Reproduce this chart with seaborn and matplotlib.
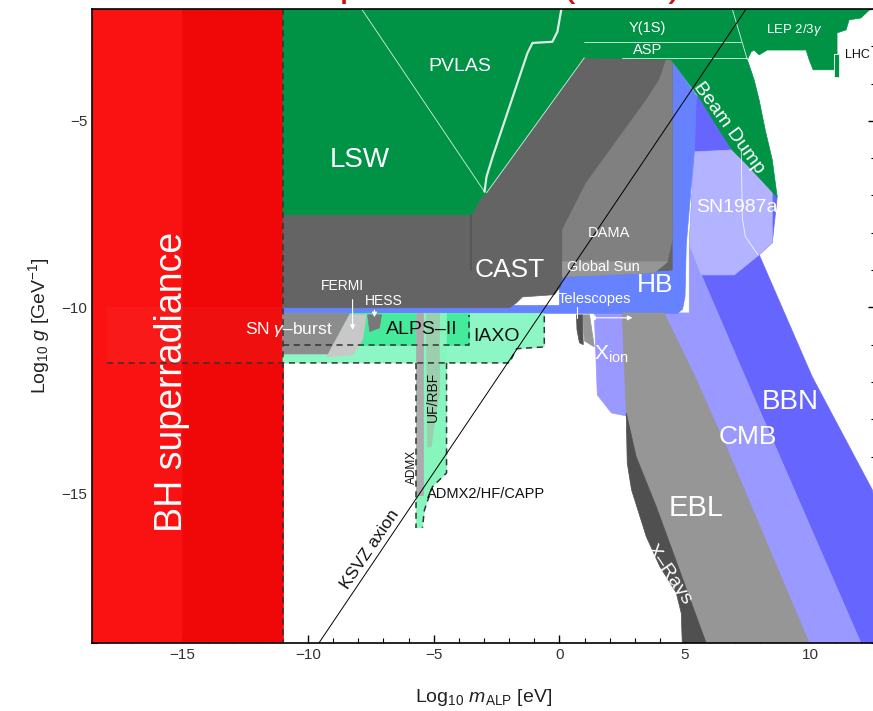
import matplotlib
matplotlib.use("Agg")
import matplotlib.pyplot as plt
from matplotlib.ticker import MultipleLocator
import seaborn as sns

sns.set_theme(style="ticks")
plt.rcParams["font.family"] = ["Liberation Sans", "DejaVu Sans"]
plt.rcParams["mathtext.fontset"] = "custom"
plt.rcParams["mathtext.rm"] = "Liberation Sans"
plt.rcParams["mathtext.it"] = "Liberation Sans:italic"
plt.rcParams["mathtext.bf"] = "Liberation Sans:bold"

# region outlines, (log10 m_ALP [eV], log10 g [GeV^-1])
bh_a = [(-18.6, -19.0), (-15.0, -19.0), (-15.0, -2.0), (-18.6, -2.0)]
bh_b = [(-15.0, -19.0), (-11.0, -19.0), (-11.0, -2.0), (-15.0, -2.0)]
bh_band = [(-18.0, -11.49), (-11.0, -11.49), (-11.0, -10.0), (-18.0, -10.0)]

green_top = [(-11.0, -2.0), (12.6, -2.0), (12.33, -2.03), (12.0, -2.24), (11.53, -2.29),
             (11.41, -2.56), (11.05, -2.64), (11.05, -3.2), (10.93, -3.63), (10.1, -3.63),
             (9.94, -3.36), (9.82, -3.10), (8.27, -3.10), (7.95, -3.23), (7.75, -3.10),
             (7.63, -3.15), (7.48, -3.36), (7.75, -3.90), (7.95, -4.44), (8.19, -5.24),
             (8.47, -6.04), (8.63, -6.85), (8.67, -7.04), (8.55, -6.96), (8.07, -6.61),
             (7.36, -6.10), (6.88, -5.78), (6.36, -5.24), (5.57, -4.38), (4.45, -3.36),
             (0.99, -3.31), (-2.90, -6.93), (-3.18, -7.12), (-3.42, -7.44), (-3.58, -7.52),
             (-11.0, -7.52)]
lhc = [(10.93, -3.2), (11.13, -3.2), (11.13, -3.82), (10.93, -3.82)]

cast = [(-11.0, -7.52), (-3.58, -7.52), (-3.42, -7.44), (-3.18, -7.12), (-2.90, -6.93),
        (0.99, -3.31), (4.49, -3.31), (4.49, -9.0), (0.12, -9.18), (0.04, -9.45),
        (-0.20, -9.66), (-1.47, -9.72), (-1.71, -9.88), (-1.99, -10.01), (-11.0, -10.01)]
dama = [(4.25, -3.31), (4.49, -3.31), (4.49, -8.19), (4.29, -8.78), (3.78, -9.07),
        (0.12, -9.18), (0.12, -7.92), (1.07, -6.66), (3.46, -4.44), (3.98, -3.90),
        (4.25, -3.36)]
global_sun = [(0.12, -8.78), (4.3, -8.78), (3.78, -9.07), (0.12, -9.18)]

hb = [(-11.0, -9.95), (-11.0, -10.16), (4.7, -10.16), (4.9, -10.05), (5.0, -9.7),
      (5.05, -8.3), (5.37, -5.8), (5.45, -4.32), (4.45, -3.36), (0.0, -3.36), (0.0, -9.95)]
bbn = [(5.45, -4.32), (5.57, -4.38), (6.36, -5.24), (6.88, -5.78), (7.36, -6.10),
       (8.07, -6.61), (8.55, -6.96), (8.67, -7.04), (8.47, -8.27), (7.95, -8.59),
       (10.06, -11.86), (12.45, -14.89), (13.6, -19.0), (12.0, -19.0), (7.44, -11.94),
       (5.65, -9.13), (5.17, -8.32), (5.37, -5.8)]
sn1987a = [(5.37, -5.83), (6.88, -5.78), (7.36, -6.10), (8.07, -6.61), (8.47, -6.9),
           (8.47, -8.27), (7.95, -8.59), (6.96, -9.13), (5.65, -9.13), (5.17, -8.32)]
sn1987a_inner = [(7.24, -5.83), (7.28, -7.6), (7.4, -8.1), (7.9, -8.59)]
cmb = [(1.39, -10.15), (1.51, -12.35), (2.07, -12.83), (2.66, -12.91), (5.84, -19.0),
       (12.0, -19.0), (7.44, -11.94), (5.65, -9.13), (5.17, -8.32), (5.17, -10.15)]
ebl = [(2.50, -10.15), (2.66, -12.83), (3.06, -14.01), (3.86, -15.35), (5.84, -19.0),
       (9.94, -19.0), (6.64, -13.74), (5.45, -11.94), (4.17, -10.15)]
xrays = [(2.66, -12.83), (2.70, -14.17), (2.87, -14.89), (3.46, -16.15), (4.0, -16.95),
         (4.65, -17.65), (4.85, -18.2), (4.89, -19.0), (5.84, -19.0), (3.86, -15.35),
         (3.06, -14.01)]
tele_dark = [(0.68, -10.2), (0.91, -10.2), (0.95, -11.0), (0.80, -10.95), (0.70, -10.6)]
tele_grey = [(0.91, -10.2), (1.2, -10.2), (1.39, -11.06), (1.0, -10.9)]

iaxo = [(-11.0, -10.16), (-0.60, -10.16), (-0.60, -11.06), (-1.71, -11.11), (-1.99, -11.49),
        (-11.0, -11.49)]
alps = [(-11.0, -10.16), (-3.58, -10.16), (-3.58, -11.0), (-11.0, -11.0)]
sn_gamma = [(-11.0, -10.16), (-8.35, -10.16), (-9.2, -11.25), (-11.0, -11.25)]
fermi = [(-8.35, -10.2), (-7.68, -10.2), (-7.83, -10.87), (-8.23, -11.27), (-9.26, -11.33)]
hess = [(-7.63, -10.2), (-7.08, -10.2), (-7.16, -10.55), (-7.55, -10.65)]
admx2 = [(-5.69, -10.16), (-4.49, -10.16), (-4.49, -14.44), (-5.05, -14.81), (-5.37, -15.43),
         (-5.45, -15.91), (-5.69, -15.91)]
admx = [(-5.69, -10.16), (-5.41, -10.16), (-5.41, -15.03), (-5.69, -15.03)]
uf_rbf = [(-5.29, -10.16), (-4.77, -10.16), (-4.77, -12.3), (-4.95, -13.0), (-5.1, -13.74),
          (-5.25, -13.74)]

iaxo_dash = [(-18.0, -11.49), (-1.99, -11.49), (-1.71, -11.11), (-0.60, -11.06), (-0.60, -10.2)]
alps_dash = [(-11.0, -11.0), (-3.58, -11.0), (-3.58, -10.2)]
admx2_left = [(-5.69, -11.49), (-5.69, -15.91)]
admx2_right = [(-4.49, -11.49), (-4.49, -14.44), (-5.05, -14.81), (-5.37, -15.43), (-5.45, -15.91)]
bh_edge = [(-11.0, -2.0), (-11.0, -19.0)]

pvlas_edge = [(-7.87, -2.0), (-2.98, -6.90)]
lsw_edge = [(0.08, -2.0), (-0.08, -2.61), (-0.28, -2.88), (-1.07, -2.91), (-1.27, -3.18),
            (-2.66, -5.97), (-2.90, -6.50), (-2.98, -6.90)]
cast_edge = [(-2.90, -6.93), (0.99, -3.31)]
asp_top = [(0.99, -2.88), (7.24, -2.88)]
asp_bottom = [(2.5, -3.31), (7.48, -3.31)]
lep_edge = [(6.88, -2.0), (7.48, -3.36)]
cast_line = [(-3.5, -7.52), (-3.5, -9.0)]

ksvz_m = [-9.57, 7.43]
ksvz_g = [-19.0, -2.0]

red1, red2 = "#FA1212", "#F00808"
green = "#009245"
layers = [
    (bh_a, red1), (bh_b, red2),
    (bbn, "#6666FF"), (cmb, "#9999FF"), (sn1987a, "#B3B3FF"), (hb, "#6682FF"),
    (ebl, "#969696"), (xrays, "#505050"), (tele_grey, "#969696"), (tele_dark, "#505050"),
    (cast, "#646464"), (dama, "#808080"), (global_sun, "#969696"),
    (green_top, green), (lhc, green),
    (iaxo, "#8CF7C4"), (alps, "#44EB9C"), (sn_gamma, "#8C8C8C"), (fermi, "#C8C8C8"),
    (hess, "#787878"), (admx2, "#86F5BE"), (admx, "#ABABAB"), (uf_rbf, "#9CCFAE"),
]

fig = plt.figure(figsize=(8.73, 7.11), dpi=100)
ax = fig.add_axes([92 / 873, 68 / 711, 784 / 873, 634 / 711])

for pts, c in layers:
    xs, ys = zip(*pts)
    ax.fill(xs, ys, facecolor=c, edgecolor=c, lw=0.5, zorder=1)

xs, ys = zip(*bh_band)
ax.fill(xs, ys, facecolor="white", alpha=0.03, lw=0, zorder=1.5)
xs, ys = zip(*lhc)
ax.plot(xs + xs[:1], ys + ys[:1], color="white", lw=0.6, zorder=2)

for pts, w in [(pvlas_edge, 0.6), (lsw_edge, 1.6), (cast_edge, 0.6), (asp_top, 0.6),
               (asp_bottom, 0.6), (lep_edge, 0.6), (sn1987a_inner, 0.6)]:
    xs, ys = zip(*pts)
    ax.plot(xs, ys, color="white", lw=w, alpha=0.85, zorder=2)
xs, ys = zip(*cast_line)
ax.plot(xs, ys, color="#555555", lw=1.2, zorder=2)

for pts in [iaxo_dash, alps_dash, admx2_left, admx2_right, bh_edge]:
    xs, ys = zip(*pts)
    ax.plot(xs, ys, color="#333333", lw=1.1, ls=(0, (4, 3)), zorder=3)

sns.lineplot(x=ksvz_m, y=ksvz_g, sort=False, color="black", lw=0.7, ax=ax, zorder=4)

# small arrows
arrow = dict(arrowstyle="-|>", color="white", lw=0.8, mutation_scale=7)
ax.annotate("", xy=(-8.23, -10.68), xytext=(-8.23, -9.72), arrowprops=arrow, zorder=5)
ax.annotate("", xy=(-7.36, -10.34), xytext=(-7.36, -10.0), arrowprops=arrow, zorder=5)
ax.plot([0.72, 0.72], [-9.99, -10.28], color="white", lw=0.8, zorder=5)
ax.annotate("", xy=(1.11, -10.28), xytext=(3.02, -10.28),
            arrowprops=dict(arrowstyle="<|-|>", color="white", lw=0.8, mutation_scale=7), zorder=5)

w = "white"
labels = [
    ("BH superradiance", -15.43, -12.0, 27, w, 90),
    ("LSW", -7.95, -6.05, 20, w, 0),
    ("PVLAS", -3.98, -3.55, 14, w, 0),
    ("CAST", -1.99, -9.0, 19, w, 0),
    ("DAMA", 1.99, -8.0, 10.5, w, 0),
    ("Global Sun", 1.75, -8.91, 10.5, w, 0),
    ("Telescopes", 1.39, -9.77, 10.5, w, 0),
    ("HB", 3.82, -9.40, 19, w, 0),
    (r"$\mathregular{X_{ion}}$", 2.07, -11.27, 15, w, 0),
    ("SN1987a", 7.08, -7.31, 14, w, 0),
    ("Beam Dump", 6.76, -5.19, 14, w, -54),
    ("Y(1S)", 3.50, -2.51, 10.5, w, 0),
    ("ASP", 3.50, -3.10, 10.5, w, 0),
    (r"LEP 2/3$\gamma$", 9.34, -2.56, 9.5, w, 0),
    ("LHC", 11.85, -3.23, 9, "#111111", 0),
    ("FERMI", -8.63, -9.43, 10, w, 0),
    ("HESS", -7.0, -9.83, 10, w, 0),
    (r"SN $\gamma$–burst", -10.78, -10.60, 12.5, w, 0),
    ("ALPS–II", -5.49, -10.60, 14, "#111111", 0),
    ("IAXO", -2.50, -10.79, 14, "#111111", 0),
    ("UF/RBF", -5.05, -12.40, 10, "#111111", 90),
    ("ADMX", -5.85, -14.28, 8.5, "#111111", 90),
    ("EBL", 5.45, -15.38, 21, w, 0),
    ("CMB", 7.51, -13.47, 19, w, 0),
    ("BBN", 9.18, -12.53, 20, w, 0),
    ("X–Rays", 4.37, -17.17, 14, w, -56),
    ("KSVZ axion", -7.55, -16.5, 12.5, "#111111", 56),
]
for s, x, y, size, c, rot in labels:
    ax.text(x, y, s, fontsize=size, color=c, rotation=rot, ha="center", va="center",
            rotation_mode="anchor", zorder=6)
ax.text(-5.25, -15.0, "ADMX2/HF/CAPP", fontsize=10.5, color="#111111", ha="left",
        va="center", zorder=6)

ax.set_xlim(-18.6, 12.6)
ax.set_ylim(-19.0, -2.0)
ax.xaxis.set_major_locator(MultipleLocator(5))
ax.xaxis.set_minor_locator(MultipleLocator(1))
ax.yaxis.set_major_locator(MultipleLocator(5))
ax.yaxis.set_minor_locator(MultipleLocator(1))
ax.tick_params(which="both", direction="in", top=True, right=True, colors="black",
               labelcolor="#333333", labelsize=11)
ax.tick_params(which="major", length=6, width=1)
ax.tick_params(which="minor", length=3.5, width=0.8)
for sp in ax.spines.values():
    sp.set_color("black")
    sp.set_linewidth(1.2)
    sp.set_zorder(10)
ax.set_xlabel(r"Log$_{10}$ $m_{\mathrm{ALP}}$ [eV]", fontsize=14, color="#222222", labelpad=18)
ax.set_ylabel(r"Log$_{10}$ $g$ [GeV$^{-1}$]", fontsize=14, color="#222222", labelpad=7)

fig.text(0.534, 1 + 5 / 711, "ALP parameters (2019)", color="#D01010", fontsize=30,
         ha="center", va="baseline")

fig.savefig("out.png", dpi=100)
